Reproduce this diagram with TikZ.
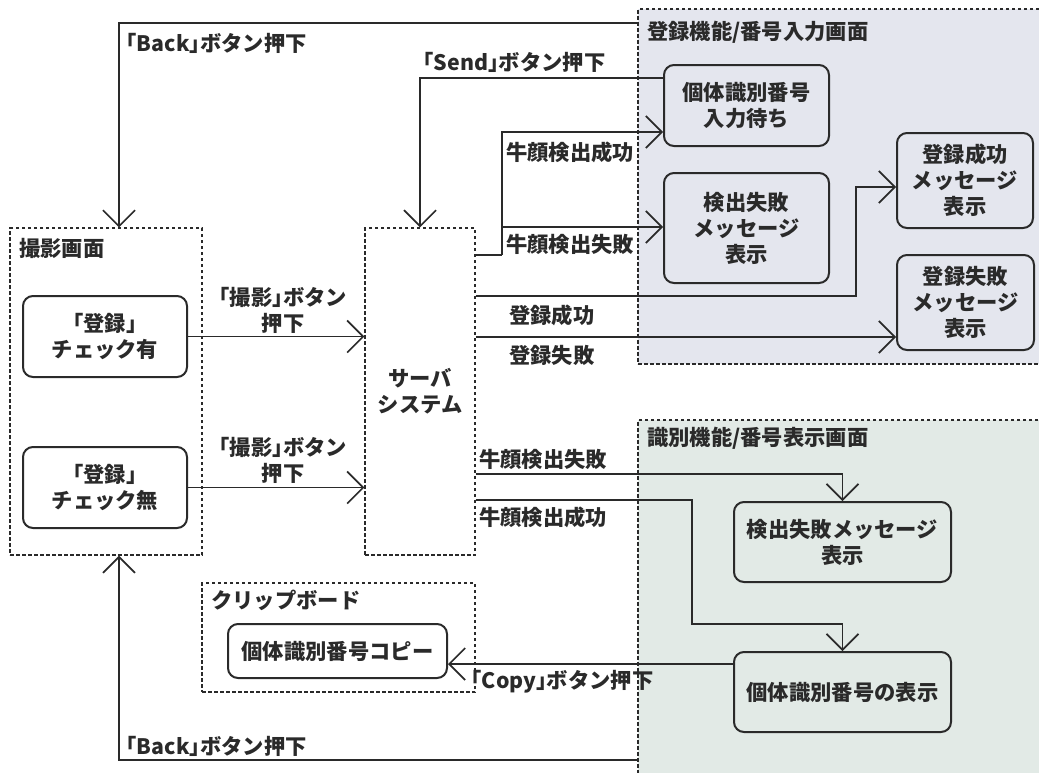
\documentclass[tikz,border=0pt]{standalone}
\usepackage{fontspec}
\setmainfont{Noto Sans CJK JP}
\newfontfamily\halfpunct{Noto Sans CJK JP}[RawFeature=+halt]
\newcommand\lbk{{\halfpunct\bfseries 「}}
\newcommand\rbk{{\halfpunct\bfseries 」}}
\usetikzlibrary{arrows.meta}
\definecolor{ink}{HTML}{2A2A2A}
\definecolor{regbg}{RGB}{228,230,238}
\definecolor{idbg}{RGB}{226,234,230}
\tikzset{
  grp/.style={draw=ink, line width=1.2pt, dash pattern=on 3.5pt off 2.5pt, inner sep=0pt},
  state/.style={draw=ink, line width=2pt, rounded corners=10pt, align=center, inner sep=2pt},
  conn/.style={draw=ink, line width=1.7pt},
  arr/.style={conn, -{Straight Barb[length=16pt,width=32pt]}},
  lbl/.style={inner sep=0pt, align=center},
  ttl/.style={inner sep=0pt, anchor=west},
}
\begin{document}
\begin{tikzpicture}[x=1pt,y=-1pt,
  every node/.append style={font=\fontsize{21.3}{26}\selectfont\bfseries, text=ink}]
\useasboundingbox (0,0) rectangle (1039,772);
\clip (0,0) rectangle (1039,772);

% regions
\node[grp, fill=regbg, minimum width=407pt, minimum height=355pt] (gReg) at (841.5,186.5) {};
\node[grp, fill=idbg, minimum width=407pt, minimum height=360pt] (gId) at (841.5,600) {};
\node[grp, minimum width=192pt, minimum height=327pt] (gShoot) at (106,391.5) {};
\node[grp, minimum width=110pt, minimum height=327pt, align=center] (gServer) at (420,391.5) {サーバ\\システム};
\node[grp, minimum width=273pt, minimum height=109pt] (gClip) at (338.5,637.5) {};

\node[ttl] (tReg) at (647,32) {登録機能/番号入力画面};
\node[ttl] (tId) at (647,438) {識別機能/番号表示画面};
\node[ttl] (tShoot) at (19,248) {撮影画面};
\node[ttl] (tClip) at (211,600) {クリップボード};

% states
\node[state, minimum width=164pt, minimum height=81pt] (nYes) at (105,336.5) {\lbk 登録\rbk\\チェック有};
\node[state, minimum width=164pt, minimum height=81pt] (nNo) at (105,487.5) {\lbk 登録\rbk\\チェック無};
\node[state, minimum width=165pt, minimum height=81pt] (nWait) at (746.5,105.5) {個体識別番号\\入力待ち};
\node[state, minimum width=165pt, minimum height=110pt] (nFail) at (746.5,228) {検出失敗\\メッセージ\\表示};
\node[state, minimum width=136pt, minimum height=95pt] (nRegOk) at (965,180.5) {登録成功\\メッセージ\\表示};
\node[state, minimum width=137pt, minimum height=95pt] (nRegNg) at (965.5,302.5) {登録失敗\\メッセージ\\表示};
\node[state, minimum width=217pt, minimum height=80pt] (nIdFail) at (842.5,542) {検出失敗メッセージ\\表示};
\node[state, minimum width=217pt, minimum height=80pt] (nIdShow) at (842.5,692) {個体識別番号の表示};
\node[state, minimum width=219pt, minimum height=54pt] (nCopy) at (337.5,651) {個体識別番号コピー};

% connectors
\draw[arr] (gReg.west |- 0,23) -| ([xshift=13pt]gShoot.north);
\node[ttl] (lBackTop) at (126,43) {\lbk Back\rbk ボタン押下};

\draw[arr] (nWait.west |- 0,78) -| (gServer.north);
\node[ttl] (lSend) at (423,62) {\lbk Send\rbk ボタン押下};

\coordinate (sj) at (502,255);
\draw[conn] (gServer.east |- sj) -- (sj);
\draw[arr] (sj) |- (nWait.west |- 0,132);
\draw[arr] (sj |- 0,227) -- (nFail.west |- 0,227);
\node[ttl] (lOk1) at (506,152) {牛顔検出成功};
\node[ttl] (lNg1) at (506,244) {牛顔検出失敗};

\coordinate (rj) at (856,187);
\draw[arr] (gServer.east |- 0,296) -| (rj) -- (nRegOk.west |- rj);
\node[ttl] (lRegOk) at (509,315) {登録成功};
\draw[arr] (gServer.east |- 0,337) -- (nRegNg.west |- 0,337);
\node[ttl] (lRegNg) at (509,355) {登録失敗};

\draw[arr] (nYes.east) -- (nYes.east -| gServer.west);
\node[lbl] (lShoot1) at (283,310) {\lbk 撮影\rbk ボタン\\押下};
\draw[arr] (nNo.east) -- (nNo.east -| gServer.west);
\node[lbl] (lShoot2) at (283,460) {\lbk 撮影\rbk ボタン\\押下};

\draw[arr] (gServer.east |- 0,474) -| (nIdFail.north);
\node[ttl] (lNg2) at (479,459) {牛顔検出失敗};
\coordinate (ij) at (692,624);
\draw[arr] (gServer.east |- 0,500) -| (ij) -| (nIdShow.north);
\node[ttl] (lOk2) at (479,517) {牛顔検出成功};

\draw[arr] (nIdShow.west |- 0,664) -- (nCopy.east |- 0,664);
\node[ttl] (lCopy) at (471,682) {\lbk Copy\rbk ボタン押下};

\draw[arr] (gId.west |- 0,760) -| ([xshift=13pt]gShoot.south);
\node[ttl] (lBackBot) at (126,746) {\lbk Back\rbk ボタン押下};
\end{tikzpicture}
\end{document}
